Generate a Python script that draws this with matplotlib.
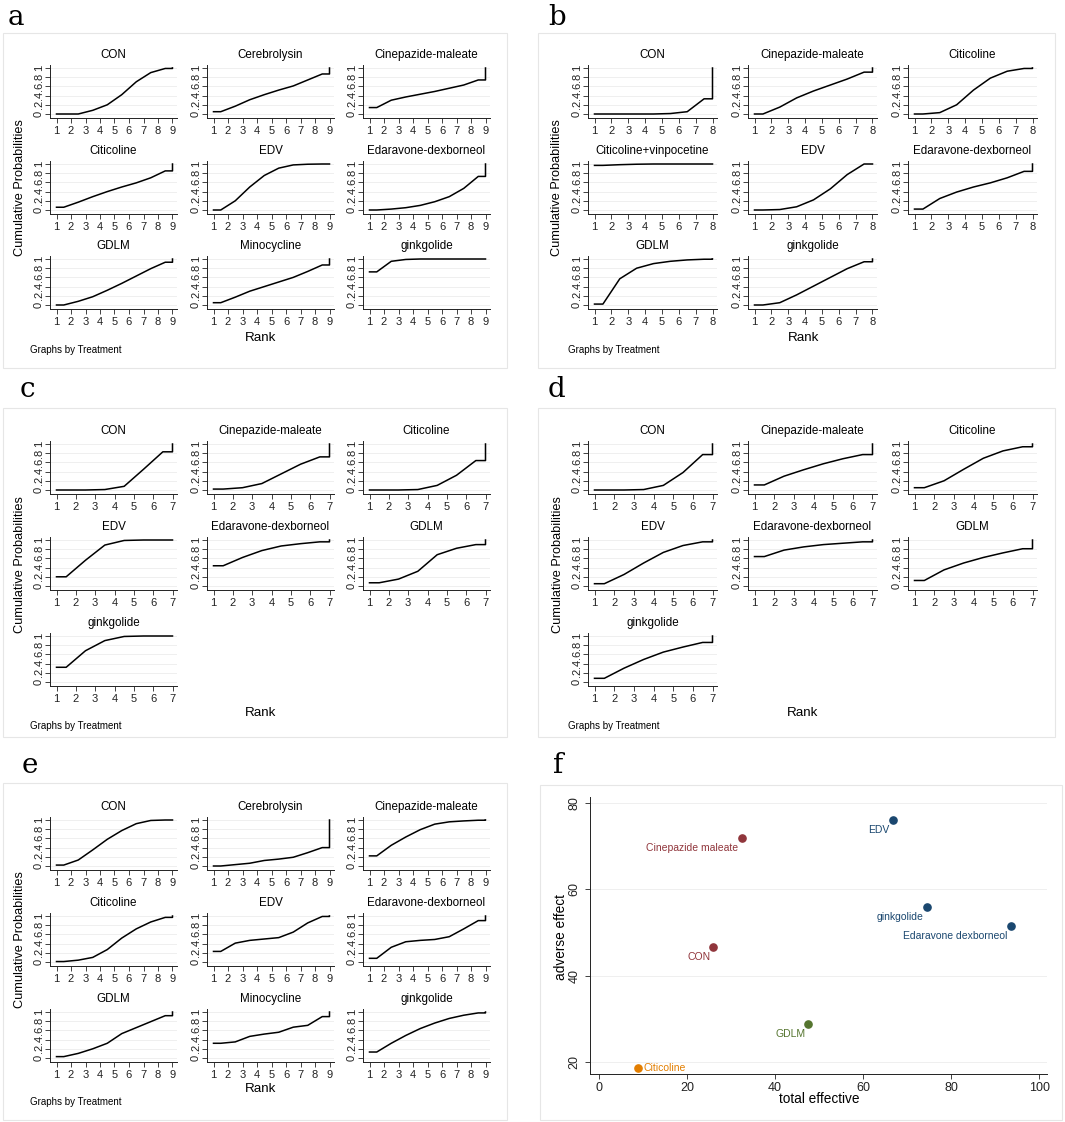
import numpy as np
import matplotlib.pyplot as plt
from matplotlib.patches import Rectangle

plt.rcParams['font.family'] = ['Liberation Sans', 'DejaVu Sans']

W, H = 1065, 1122

# ---- cumulative rank probabilities (rank 1..N) ----
a_names = ['CON', 'Cerebrolysin', 'Cinepazide-maleate', 'Citicoline', 'EDV',
           'Edaravone-dexborneol', 'GDLM', 'Minocycline', 'ginkgolide']
a_cum = [
    [0.00, 0.00, 0.08, 0.20, 0.42, 0.70, 0.90, 0.99, 1.00],
    [0.05, 0.17, 0.31, 0.42, 0.52, 0.61, 0.74, 0.87, 1.00],
    [0.14, 0.30, 0.37, 0.43, 0.49, 0.56, 0.63, 0.74, 1.00],
    [0.06, 0.17, 0.29, 0.40, 0.50, 0.59, 0.70, 0.85, 1.00],
    [0.00, 0.20, 0.50, 0.75, 0.91, 0.98, 0.995, 1.00, 1.00],
    [0.00, 0.02, 0.05, 0.10, 0.18, 0.29, 0.47, 0.73, 1.00],
    [0.00, 0.08, 0.18, 0.32, 0.47, 0.63, 0.79, 0.93, 1.00],
    [0.05, 0.17, 0.30, 0.40, 0.50, 0.60, 0.73, 0.87, 1.00],
    [0.72, 0.95, 0.99, 1.00, 1.00, 1.00, 1.00, 1.00, 1.00],
]

b_names = ['CON', 'Cinepazide-maleate', 'Citicoline', 'Citicoline+vinpocetine', 'EDV',
           'Edaravone-dexborneol', 'GDLM', 'ginkgolide']
b_cum = [
    [0.00, 0.00, 0.00, 0.00, 0.01, 0.05, 0.33, 1.00],
    [0.00, 0.15, 0.35, 0.50, 0.63, 0.76, 0.91, 1.00],
    [0.00, 0.03, 0.20, 0.52, 0.78, 0.93, 0.99, 1.00],
    [0.97, 0.985, 0.995, 1.00, 1.00, 1.00, 1.00, 1.00],
    [0.00, 0.01, 0.07, 0.22, 0.46, 0.77, 1.00, 1.00],
    [0.02, 0.25, 0.39, 0.50, 0.59, 0.70, 0.84, 1.00],
    [0.02, 0.57, 0.80, 0.90, 0.95, 0.98, 0.995, 1.00],
    [0.00, 0.05, 0.22, 0.41, 0.60, 0.79, 0.94, 1.00],
]

c_names = ['CON', 'Cinepazide-maleate', 'Citicoline', 'EDV',
           'Edaravone-dexborneol', 'GDLM', 'ginkgolide']
c_cum = [
    [0.00, 0.00, 0.01, 0.08, 0.45, 0.83, 1.00],
    [0.02, 0.05, 0.14, 0.35, 0.56, 0.72, 1.00],
    [0.00, 0.00, 0.01, 0.10, 0.32, 0.64, 1.00],
    [0.20, 0.56, 0.89, 0.99, 1.00, 1.00, 1.00],
    [0.44, 0.62, 0.77, 0.87, 0.92, 0.96, 1.00],
    [0.07, 0.15, 0.32, 0.68, 0.82, 0.90, 1.00],
    [0.32, 0.68, 0.90, 0.99, 1.00, 1.00, 1.00],
]

d_names = c_names
d_cum = [
    [0.00, 0.00, 0.01, 0.10, 0.38, 0.77, 1.00],
    [0.11, 0.30, 0.44, 0.57, 0.68, 0.77, 1.00],
    [0.05, 0.20, 0.45, 0.69, 0.85, 0.94, 1.00],
    [0.05, 0.25, 0.50, 0.73, 0.88, 0.96, 1.00],
    [0.64, 0.78, 0.85, 0.90, 0.93, 0.96, 1.00],
    [0.12, 0.35, 0.50, 0.62, 0.72, 0.81, 1.00],
    [0.08, 0.30, 0.49, 0.65, 0.76, 0.86, 1.00],
]

e_names = a_names
e_cum = [
    [0.02, 0.13, 0.35, 0.58, 0.77, 0.92, 0.99, 1.00, 1.00],
    [0.00, 0.03, 0.06, 0.12, 0.15, 0.19, 0.29, 0.40, 1.00],
    [0.22, 0.45, 0.63, 0.79, 0.91, 0.96, 0.98, 0.995, 1.00],
    [0.01, 0.04, 0.10, 0.27, 0.52, 0.72, 0.87, 0.97, 1.00],
    [0.23, 0.41, 0.47, 0.50, 0.53, 0.65, 0.85, 0.99, 1.00],
    [0.08, 0.32, 0.44, 0.47, 0.49, 0.55, 0.72, 0.90, 1.00],
    [0.03, 0.10, 0.20, 0.32, 0.53, 0.66, 0.79, 0.92, 1.00],
    [0.32, 0.35, 0.47, 0.52, 0.56, 0.67, 0.71, 0.90, 1.00],
    [0.13, 0.32, 0.49, 0.64, 0.76, 0.86, 0.93, 0.98, 1.00],
]

# ---- panel f: total effective vs adverse effect ----
f_names = ['EDV', 'Cinepazide maleate', 'ginkgolide', 'Edaravone dexborneol',
           'CON', 'GDLM', 'Citicoline']
f_total = [66.8, 32.4, 74.5, 93.6, 26.0, 47.6, 8.8]
f_adverse = [76.1, 72.0, 55.8, 51.6, 46.7, 28.8, 18.7]
f_group = [0, 1, 0, 0, 1, 2, 3]
group_colors = ['#1a476f', '#90353b', '#55752f', '#e37e00']

fig = plt.figure(figsize=(W / 100, H / 100), dpi=100)


def px_axes(left, top, width, height):
    return fig.add_axes([left / W, 1 - (top + height) / H, width / W, height / H])


def px_text(x, y, s, **kw):
    fig.text(x / W, 1 - y / H, s, **kw)


def frame(x0, y0, x1, y1):
    fig.add_artist(Rectangle((x0 / W, 1 - y1 / H), (x1 - x0) / W, (y1 - y0) / H,
                             transform=fig.transFigure, fill=False,
                             ec='#e6e6e6', lw=0.8))


def rank_path(cum):
    cum = np.asarray(cum)
    n = len(cum)
    ranks = np.arange(1, n + 1)
    xs = np.concatenate([[ranks[0]], ranks[:-1] + 0.5, [ranks[-1], ranks[-1]]])
    ys = np.concatenate([[cum[0]], cum[:-1], [cum[-2], cum[-1]]])
    return xs, ys


def style_axes(ax):
    for side in ['top', 'right']:
        ax.spines[side].set_visible(False)
    for side in ['left', 'bottom']:
        ax.spines[side].set_linewidth(0.7)
        ax.spines[side].set_color('#222222')
    ax.tick_params(direction='out', length=3.5, width=0.6, colors='#222222')
    ax.set_axisbelow(True)


def draw_panel(names, cums, col_x, col_w, row_y, letter, letter_xy, box,
               ylab_xy, rank_xy, note_xy):
    n = len(cums[0])
    ppu = (col_w - 11) / (n - 1)
    for i, (name, cum) in enumerate(zip(names, cums)):
        r, c = divmod(i, 3)
        ax = px_axes(col_x[c], row_y[r] - 3, col_w, 53)
        xs, ys = rank_path(cum)
        ax.plot(xs, ys, color='black', lw=1.1)
        ax.set_xlim(1 - 6.5 / ppu, n + 4.5 / ppu)
        ax.set_ylim(-4 / 46, 1 + 3 / 46)
        ax.set_xticks(range(1, n + 1))
        ax.set_xticklabels([str(k) for k in range(1, n + 1)], fontsize=8)
        ax.set_yticks([0, 0.2, 0.4, 0.6, 0.8, 1])
        ax.set_yticklabels(['0', '.2', '.4', '.6', '.8', '1'], fontsize=8,
                           rotation=90, va='center')
        ax.tick_params(axis='x', pad=2.5)
        ax.tick_params(axis='y', pad=1.0)
        ax.grid(axis='y', color='#ececec', lw=0.6)
        style_axes(ax)
        ax.annotate(name, xy=(0.5, 1), xycoords='axes fraction',
                    xytext=(0, 7.4), textcoords='offset points',
                    ha='center', va='center', fontsize=8.4)
    frame(*box)
    px_text(letter_xy[0], letter_xy[1], letter, family='DejaVu Serif',
            fontsize=20, ha='left', va='baseline')
    px_text(ylab_xy[0], ylab_xy[1], 'Cumulative Probabilities', rotation=90,
            ha='center', va='center', fontsize=9.2)
    px_text(rank_xy[0], rank_xy[1], 'Rank', ha='center', va='center', fontsize=9.6)
    px_text(note_xy[0], note_xy[1], 'Graphs by Treatment', ha='left',
            va='center', fontsize=7)


left_cols = [50, 207, 363]
right_cols = [588, 748, 908]

draw_panel(a_names, a_cum, left_cols, 127, [68, 164, 259], 'a', (8, 25),
           (3, 33, 507, 368), (20, 188), (261, 338), (30, 350))
draw_panel(b_names, b_cum, right_cols, 129, [68, 164, 259], 'b', (548, 25),
           (538, 33, 1055, 368), (557, 188), (804, 338), (568, 350))
draw_panel(c_names, c_cum, left_cols, 127, [444, 540, 636], 'c', (20, 397),
           (3, 408, 507, 737), (20, 565), (261, 713), (30, 726))
draw_panel(d_names, d_cum, right_cols, 129, [444, 540, 636], 'd', (548, 397),
           (538, 408, 1055, 737), (558, 565), (803, 713), (568, 726))
draw_panel(e_names, e_cum, left_cols, 127, [820, 916, 1012], 'e', (22, 773),
           (3, 783, 507, 1120), (20, 940), (261, 1089), (30, 1102))

# ---- panel f scatter ----
axf = px_axes(590, 797, 457, 277)
for name, x, y, g in zip(f_names, f_total, f_adverse, f_group):
    col = group_colors[g]
    axf.plot(x, y, 'o', color=col, ms=5.2)
    if name == 'Citicoline':
        axf.annotate(name, (x, y), xytext=(4.3, 0), textcoords='offset points',
                     ha='left', va='center', color=col, fontsize=7.5)
    else:
        axf.annotate(name, (x, y), xytext=(-2.3, -7.2), textcoords='offset points',
                     ha='right', va='center', color=col, fontsize=7.5)
axf.set_xlim(-2.05, 101.8)
axf.set_ylim(17.2, 81.4)
axf.set_xticks([0, 20, 40, 60, 80, 100])
axf.set_yticks([20, 40, 60, 80])
axf.set_yticklabels(['20', '40', '60', '80'], rotation=90, va='center')
axf.tick_params(labelsize=9)
axf.tick_params(axis='x', pad=2)
axf.grid(axis='y', color='#ececec', lw=0.6)
style_axes(axf)
frame(540, 785, 1062, 1120)
px_text(553, 773, 'f', family='DejaVu Serif', fontsize=20, ha='left', va='baseline')
px_text(561, 937, 'adverse effect', rotation=90, ha='center', va='center', fontsize=9.8)
px_text(819, 1099, 'total effective', ha='center', va='center', fontsize=9.8)

plt.savefig('out.png', dpi=100)
